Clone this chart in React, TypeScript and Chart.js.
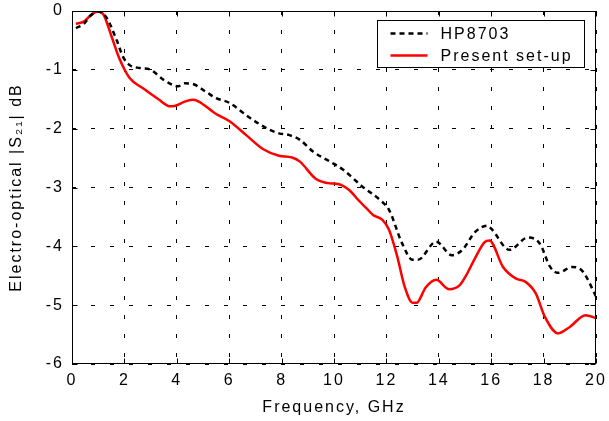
import React, { useEffect, useRef } from "react";
import { Chart, registerables } from "chart.js";

Chart.register(...registerables);

// ---- data ----
const seriesLabels = ["HP8703", "Present set-up"];
const xTitle = "Frequency, GHz";
const yTitle = "Electro-optical |S\u2082\u2081| dB";
const xTicks = [0, 2, 4, 6, 8, 10, 12, 14, 16, 18, 20];
const yTicks = [0, -1, -2, -3, -4, -5, -6];

const freqHP = [0.15, 0.45, 0.7, 0.98, 1.3, 1.7, 1.95, 2.2, 2.6, 3.0, 3.5, 4.05, 4.3, 4.6, 5.1, 5.5, 6.0, 6.8, 7.55, 7.9, 8.3, 8.7, 9.2, 9.85, 10.35, 11.1, 11.75, 12.1, 12.6, 13.0, 13.2, 13.9, 14.5, 14.9, 15.4, 15.85, 16.0, 16.7, 17.4, 17.85, 18.25, 18.55, 19.1, 19.5, 20.0];
const dbHP = [-0.29, -0.22, -0.08, -0.01, -0.1, -0.49, -0.78, -0.92, -0.97, -1.0, -1.17, -1.28, -1.23, -1.24, -1.37, -1.48, -1.56, -1.82, -2.02, -2.08, -2.11, -2.19, -2.39, -2.56, -2.7, -2.99, -3.21, -3.38, -3.95, -4.23, -4.23, -3.92, -4.15, -4.06, -3.75, -3.65, -3.7, -4.06, -3.85, -3.95, -4.35, -4.45, -4.35, -4.43, -4.85];

const freqSetup = [0.15, 0.45, 0.7, 0.98, 1.2, 1.5, 1.8, 2.2, 2.7, 3.3, 3.75, 3.95, 4.3, 4.6, 4.8, 5.5, 6.0, 6.65, 7.3, 7.9, 8.4, 8.7, 9.3, 9.85, 10.15, 10.6, 10.9, 11.25, 11.5, 11.85, 12.1, 12.4, 12.7, 13.0, 13.15, 13.5, 13.9, 14.4, 14.8, 15.05, 15.35, 15.75, 15.93, 16.45, 16.95, 17.3, 17.7, 18.05, 18.55, 19.0, 19.6, 20.0];
const dbSetup = [-0.22, -0.18, -0.08, -0.01, -0.06, -0.42, -0.8, -1.14, -1.31, -1.5, -1.62, -1.61, -1.54, -1.51, -1.53, -1.75, -1.87, -2.11, -2.35, -2.46, -2.49, -2.56, -2.85, -2.93, -2.94, -3.05, -3.2, -3.36, -3.47, -3.55, -3.72, -4.15, -4.69, -4.96, -4.96, -4.7, -4.57, -4.73, -4.66, -4.49, -4.23, -3.93, -3.9, -4.35, -4.55, -4.6, -4.8, -5.2, -5.48, -5.37, -5.17, -5.22];

const FONT_FAMILY = "'Liberation Sans', Arial, sans-serif";
const LETTER_SPACING = "2px";

const spacingPlugin = {
  id: "spacing",
  beforeLayout(chart: any) {
    (chart.ctx as any).letterSpacing = LETTER_SPACING;
  },
  beforeDraw(chart: any) {
    (chart.ctx as any).letterSpacing = LETTER_SPACING;
  },
};

const framePlugin = {
  id: "frame",
  afterDatasetsDraw(chart: any) {
    const { ctx, chartArea, scales } = chart;
    const l = Math.round(chartArea.left) + 0.5;
    const r = Math.round(chartArea.right) - 0.5;
    const t = Math.round(chartArea.top) + 0.5;
    const b = Math.round(chartArea.bottom) - 0.5;
    ctx.save();
    ctx.setLineDash([]);
    ctx.strokeStyle = "#000";
    ctx.lineWidth = 1;
    ctx.strokeRect(l, t, r - l, b - t);
    const len = 5;
    ctx.beginPath();
    xTicks.forEach((v) => {
      const px = Math.round(scales.x.getPixelForValue(v)) + 0.5;
      ctx.moveTo(px, b);
      ctx.lineTo(px, b - len);
      ctx.moveTo(px, t);
      ctx.lineTo(px, t + len);
    });
    yTicks.forEach((v) => {
      const py = Math.round(scales.y.getPixelForValue(v)) + 0.5;
      ctx.moveTo(l, py);
      ctx.lineTo(l + len, py);
      ctx.moveTo(r, py);
      ctx.lineTo(r - len, py);
    });
    ctx.stroke();
    ctx.restore();
  },
};

const legendPlugin = {
  id: "boxLegend",
  afterDraw(chart: any) {
    const { ctx, chartArea } = chart;
    const bx = Math.round(chartArea.right) - 219 + 0.5;
    const by = Math.round(chartArea.top) + 9 + 0.5;
    const bw = 207;
    const bh = 47;
    ctx.save();
    (ctx as any).letterSpacing = LETTER_SPACING;
    ctx.fillStyle = "#fff";
    ctx.fillRect(bx, by, bw, bh);
    ctx.strokeStyle = "#000";
    ctx.lineWidth = 1;
    ctx.setLineDash([]);
    ctx.strokeRect(bx, by, bw, bh);
    chart.data.datasets.forEach((ds: any, i: number) => {
      const cy = by + 13 + i * 22;
      ctx.beginPath();
      ctx.strokeStyle = ds.borderColor;
      ctx.lineWidth = ds.borderWidth;
      ctx.setLineDash(ds.borderDash || []);
      ctx.moveTo(bx + 13, cy);
      ctx.lineTo(bx + 50, cy);
      ctx.stroke();
      ctx.setLineDash([]);
      ctx.fillStyle = "#000";
      ctx.font = `16px ${FONT_FAMILY}`;
      ctx.textBaseline = "middle";
      ctx.textAlign = "left";
      ctx.fillText(ds.label, bx + 63, cy + 1);
    });
    ctx.restore();
  },
};

export default function App() {
  const ref = useRef<HTMLCanvasElement>(null);
  useEffect(() => {
    const canvas = ref.current!;
    const font = { family: FONT_FAMILY, size: 16 };
    const chart = new Chart(canvas, {
      type: "line",
      data: {
        datasets: [
          {
            label: seriesLabels[0],
            data: freqHP.map((f, i) => ({ x: f, y: dbHP[i] })),
            borderColor: "#000000",
            borderWidth: 2.5,
            borderDash: [5, 4],
            pointRadius: 0,
            cubicInterpolationMode: "monotone",
            fill: false,
          },
          {
            label: seriesLabels[1],
            data: freqSetup.map((f, i) => ({ x: f, y: dbSetup[i] })),
            borderColor: "#ff0000",
            borderWidth: 2.5,
            pointRadius: 0,
            cubicInterpolationMode: "monotone",
            fill: false,
          },
        ],
      },
      options: {
        responsive: false,
        animation: false,
        layout: { padding: { left: 0, right: 13, top: 11, bottom: 0 } },
        plugins: { legend: { display: false }, tooltip: { enabled: false } },
        scales: {
          x: {
            type: "linear",
            min: 0,
            max: 20,
            afterBuildTicks: (s: any) => {
              s.ticks = xTicks.map((v) => ({ value: v }));
            },
            afterFit: (s: any) => {
              s.height = 57;
              s.paddingLeft = 0;
              s.paddingRight = 0;
            },
            ticks: { font, color: "#000", padding: 7, maxRotation: 0, autoSkip: false },
            grid: { color: "#000", lineWidth: 1, drawTicks: false },
            border: { display: false, dash: [4, 15] },
            title: { display: true, text: xTitle, font, color: "#000", padding: { top: 4, bottom: 4 } },
          },
          y: {
            type: "linear",
            min: -6,
            max: 0,
            afterBuildTicks: (s: any) => {
              s.ticks = yTicks.map((v) => ({ value: v }));
            },
            afterFit: (s: any) => {
              s.width = 72;
              s.paddingTop = 0;
              s.paddingBottom = 0;
            },
            ticks: { font, color: "#000", padding: 8, autoSkip: false },
            grid: { color: "#000", lineWidth: 1, drawTicks: false },
            border: { display: false, dash: [4, 15] },
            title: { display: true, text: yTitle, font, color: "#000", padding: { top: 7, bottom: 7 } },
          },
        },
      } as any,
      plugins: [spacingPlugin, framePlugin, legendPlugin],
    });
    return () => chart.destroy();
  }, []);
  return (
    <div style={{ position: "absolute", left: 0, top: 0, width: 609, height: 421, background: "#fff" }}>
      <canvas ref={ref} width={609} height={421} style={{ display: "block", width: 609, height: 421 }} />
    </div>
  );
}
